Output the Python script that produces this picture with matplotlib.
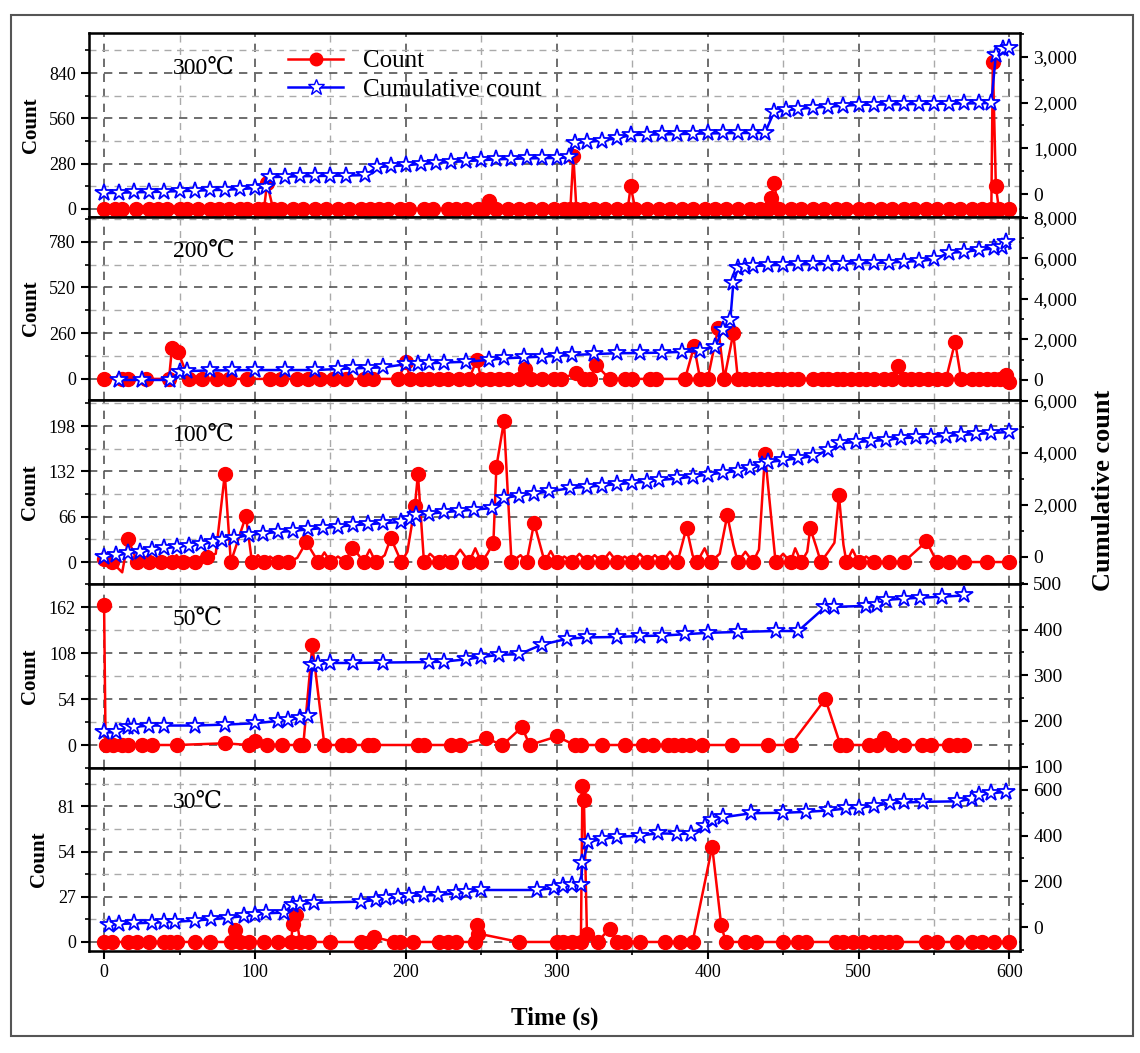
import matplotlib
matplotlib.use("Agg")
import matplotlib.pyplot as plt
from matplotlib.ticker import MultipleLocator, FuncFormatter
from matplotlib.patches import Rectangle

plt.rcParams['font.family'] = ['Liberation Serif', 'DejaVu Serif']

# ---- 300 C ----
t300_zero = [0, 7, 12, 21, 30, 36, 42, 50, 55, 62, 70, 76, 83, 90, 95, 102, 106, 112, 117, 125, 132, 140, 147, 155, 162,
             170, 176, 182, 188, 196, 202, 212, 218, 228, 233, 240, 248, 252, 260, 268, 275, 282, 290, 298, 305, 309, 313,
             318, 325, 332, 340, 347, 352, 360, 368, 375, 383, 390, 398, 405, 412, 420, 428, 435, 440, 447, 455, 462,
             470, 477, 485, 492, 500, 507, 515, 522, 530, 537, 545, 552, 560, 567, 575, 582, 588, 593, 600]
t300_peak = [108, 255, 311, 349, 442, 444, 589, 591]
c300_peak = [160, 50, 330, 140, 70, 160, 910, 140]
t300_cum = [0, 10, 20, 30, 40, 50, 60, 70, 80, 90, 100, 107, 110, 120, 130, 140, 150, 160, 173, 181, 190, 200, 210, 220,
            230, 240, 250, 260, 270, 280, 290, 300, 308, 312, 320, 330, 340, 349, 360, 370, 380, 390, 400, 410, 420,
            430, 438, 444, 452, 460, 470, 480, 490, 500, 510, 520, 530, 540, 550, 560, 570, 580, 588, 591, 596, 600]
c300_cum = [20, 30, 40, 45, 55, 65, 75, 85, 95, 110, 130, 150, 370, 380, 390, 395, 400, 405, 415, 590, 610, 630, 660,
            680, 700, 720, 740, 760, 770, 780, 785, 790, 800, 1115, 1140, 1170, 1220, 1290, 1300, 1305, 1310, 1320,
            1325, 1330, 1335, 1335, 1340, 1795, 1830, 1860, 1890, 1910, 1930, 1950, 1955, 1960, 1965, 1970, 1975,
            1975, 1980, 1985, 1990, 3050, 3170, 3190]

# ---- 200 C ----
t200_zero = [0, 12, 16, 28, 43, 56, 65, 75, 83, 95, 110, 117, 128, 135, 143, 152, 160, 172, 178, 195, 203, 210, 215,
             222, 228, 235, 242, 250, 256, 262, 268, 275, 283, 290, 298, 303, 318, 322, 335, 345, 350, 362, 366, 385,
             395, 400, 411, 420, 425, 430, 435, 440, 446, 450, 455, 460, 470, 476, 480, 486, 490, 495, 500, 505, 510,
             517, 522, 530, 535, 540, 546, 552, 558, 568, 575, 580, 585, 590, 594]
t200_peak = [45, 49, 200, 247, 279, 313, 326, 391, 407, 417, 526, 564, 598, 600]
c200_peak = [175, 155, 95, 110, 55, 35, 80, 185, 290, 260, 75, 210, 20, -20]
t200_cum = [10, 25, 44, 50, 55, 70, 85, 100, 120, 140, 155, 165, 175, 185, 200, 208, 215, 225, 240, 255, 265, 278, 290,
            300, 310, 325, 340, 355, 370, 383, 395, 405, 410, 415, 417, 420, 425, 430, 440, 450, 460, 470, 480, 490,
            500, 510, 520, 530, 540, 550, 560, 570, 580, 590, 595, 598]
c200_cum = [0, 0, 0, 400, 440, 470, 480, 490, 490, 490, 540, 570, 600, 620, 780, 800, 820, 860, 900, 990, 1070, 1110,
            1150, 1190, 1230, 1280, 1320, 1330, 1350, 1390, 1430, 1650, 2470, 2960, 4770, 5510, 5580, 5630, 5660,
            5690, 5720, 5730, 5740, 5750, 5760, 5780, 5800, 5840, 5870, 5960, 6280, 6330, 6420, 6500, 6580, 6830]

# ---- 100 C ----
t100_mark = [0, 5, 16, 22, 30, 38, 45, 52, 60, 68, 80, 84, 94, 98, 106, 115, 122, 134, 142, 150, 160, 164, 172, 180,
             190, 197, 206, 208, 212, 222, 230, 242, 250, 258, 260, 265, 270, 280, 285, 292, 300, 310, 320, 330, 340,
             350, 360, 370, 380, 386, 393, 402, 413, 420, 430, 438, 445, 455, 462, 468, 475, 487, 492, 500, 510,
             520, 530, 545, 552, 560, 570, 585, 600]
c100_mark = [5, 0, 33, 0, 0, 0, 0, 0, 0, 8, 128, 0, 67, 0, 0, 0, 0, 29, 0, 0, 0, 20, 0, 0, 35, 0, 82, 128, 0, 0, 0, 0,
             0, 28, 139, 205, 0, 0, 57, 0, 0, 0, 0, 0, 0, 0, 0, 0, 0, 50, 0, 0, 68, 0, 0, 157, 0, 0, 0, 49, 0, 97, 0,
             0, 0, 0, 0, 30, 0, 0, 0, 0, 0]
t100_noise = [12, 26, 34, 48, 56, 74, 102, 110, 128, 146, 155, 168, 176, 186, 201, 216, 226, 236, 246, 254, 276, 296,
              305, 315, 325, 335, 345, 355, 365, 375, 390, 398, 408, 417, 425, 434, 450, 458, 466, 472, 480, 484, 490,
              496, 505]
c100_noise = [-15, 8, 5, 10, 6, 12, 10, 8, 6, 14, 8, 12, 18, 10, 15, 12, 10, 18, 20, 12, 10, 16, 8, 12, 10, 14, 8, 12,
              10, 15, 10, 20, 12, 25, 15, 18, 12, 20, 15, 22, 15, 28, 25, 18, 8]
t100_cum = [0, 8, 16, 24, 32, 40, 48, 56, 64, 72, 78, 86, 96, 105, 115, 125, 135, 145, 155, 165, 175, 185, 197, 203,
            207, 215, 225, 235, 245, 257, 265, 275, 285, 295, 309, 320, 330, 340, 350, 360, 368, 380, 390, 400, 410,
            420, 428, 436, 440, 450, 460, 470, 480, 488, 498, 508, 518, 528, 538, 548, 558, 568, 578, 588, 600]
c100_cum = [0, 60, 140, 200, 270, 330, 390, 440, 500, 560, 650, 720, 850, 900, 960, 1000, 1060, 1110, 1170, 1220,
            1260, 1300, 1350, 1450, 1610, 1660, 1720, 1770, 1820, 1880, 2270, 2360, 2440, 2520, 2650, 2700, 2750,
            2800, 2850, 2900, 2960, 3020, 3090, 3170, 3240, 3310, 3420, 3530, 3650, 3720, 3800, 3880, 4110, 4380,
            4420, 4460, 4500, 4570, 4600, 4630, 4660, 4690, 4730, 4770, 4810]

# ---- 50 C ----
t50 = [0, 1, 6, 12, 16, 25, 32, 48, 80, 96, 100, 108, 118, 130, 132, 138, 146, 158, 162, 175, 178, 208, 212, 230, 236,
       253, 264, 277, 282, 300, 312, 316, 330, 345, 357, 364, 374, 378, 383, 388, 396, 416, 440, 455, 478, 488, 492,
       507, 512, 517, 522, 530, 542, 548, 560, 565, 570]
c50 = [164, 0, 0, 0, 0, 0, 0, 0, 2, 0, 5, 0, 0, 0, 0, 117, 0, 0, 0, 0, 0, 0, 0, 0, 0, 8, 0, 21, 0, 10, 0, 0, 0, 0, 0,
       0, 0, 0, 0, 0, 0, 0, 0, 0, 54, 0, 0, 0, 0, 8, 0, 0, 0, 0, 0, 0, 0]
t50_cum = [0, 8, 16, 20, 30, 40, 60, 80, 100, 115, 122, 130, 135, 138, 142, 150, 165, 185, 215, 225, 240, 250, 262,
           275, 290, 307, 320, 340, 355, 370, 385, 400, 420, 445, 460, 478, 484, 505, 512, 518, 530, 541, 555, 570]
c50_cum = [175, 175, 187, 187, 190, 190, 190, 192, 195, 200, 203, 206, 210, 323, 325, 327, 327, 328, 329, 330, 335,
           340, 345, 346, 367, 380, 383, 384, 386, 387, 390, 393, 395, 397, 397, 450, 450, 452, 455, 465, 468, 470,
           472, 475]

# ---- 30 C ----
t30 = [0, 5, 16, 22, 30, 40, 44, 48, 60, 70, 84, 87, 90, 96, 106, 115, 124, 125, 127, 130, 136, 150, 170, 176, 179,
       192, 196, 205, 222, 228, 233, 246, 247, 248, 275, 300, 304, 310, 316, 317, 318, 320, 327, 335, 340, 345, 355,
       372, 382, 390, 403, 409, 412, 425, 432, 450, 460, 465, 485, 490, 496, 503, 510, 515, 520, 525, 545, 552, 565,
       575, 582, 590, 600]
c30 = [0, 0, 0, 0, 0, 0, 0, 0, 0, 0, 0, 7, 0, 0, 0, 0, 0, 11, 16, 0, 0, 0, 0, 0, 3, 0, 0, 0, 0, 0, 0, 0, 10, 5, 0, 0,
       0, 0, 0, 93, 85, 5, 0, 8, 0, 0, 0, 0, 0, 0, 57, 10, 0, 0, 0, 0, 0, 0, 0, 0, 0, 0, 0, 0, 0, 0, 0, 0, 0, 0, 0,
       0, 0]
t30_cum = [3, 10, 20, 32, 40, 47, 60, 71, 82, 93, 100, 107, 119, 125, 130, 139, 170, 180, 187, 195, 202, 212, 221,
           233, 240, 250, 287, 298, 304, 310, 316, 317, 321, 330, 340, 355, 367, 380, 389, 398, 403, 410, 429, 450,
           465, 480, 492, 500, 510, 521, 530, 543, 565, 575, 580, 588, 598]
c30_cum = [9, 13, 16, 19, 21, 23, 28, 34, 40, 48, 53, 60, 63, 96, 100, 106, 111, 118, 126, 130, 136, 138, 140, 147,
           152, 162, 162, 170, 179, 182, 184, 279, 373, 385, 395, 400, 410, 408, 408, 440, 468, 480, 498, 500, 504,
           510, 519, 522, 530, 541, 545, 548, 550, 560, 578, 585, 592]


def merge(ta, ca, tb, cb):
    pts = sorted(zip(list(ta) + list(tb), list(ca) + list(cb)))
    return [p[0] for p in pts], [p[1] for p in pts]


t300, c300 = merge(t300_zero, [0] * len(t300_zero), t300_peak, c300_peak)
t200, c200 = merge(t200_zero, [0] * len(t200_zero), t200_peak, c200_peak)
t100_line, c100_line = merge(t100_mark, c100_mark, t100_noise, c100_noise)

panels = [
    dict(label="300\u2103", t=t300, c=c300, tl=t300, cl=c300, tc=t300_cum, cc=c300_cum,
         ylim=(-50, 1088), yt=280, rlim=(-500, 3520), rt=1000),
    dict(label="200\u2103", t=t200, c=c200, tl=t200, cl=c200, tc=t200_cum, cc=c200_cum,
         ylim=(-120, 921), yt=260, rlim=(-990, 8050), rt=2000),
    dict(label="100\u2103", t=t100_mark, c=c100_mark, tl=t100_line, cl=c100_line, tc=t100_cum, cc=c100_cum,
         ylim=(-32, 236), yt=66, rlim=(-1040, 6040), rt=2000),
    dict(label="50\u2103", t=t50, c=c50, tl=t50, cl=c50, tc=t50_cum, cc=c50_cum,
         ylim=(-27, 189), yt=54, rlim=(97, 500), rt=100),
    dict(label="30\u2103", t=t30, c=c30, tl=t30, cl=c30, tc=t30_cum, cc=c30_cum,
         ylim=(-5.4, 104), yt=27, rlim=(-105, 696), rt=200),
]

W, H = 1140, 1053
fig = plt.figure(figsize=(W / 100, H / 100), dpi=100)
fig.patches.append(Rectangle((11 / W, 1 - 1036 / H), 1122 / W, 1021 / H, transform=fig.transFigure,
                             fill=False, edgecolor="#555555", lw=1.5))

left, right = 89 / W, 1020 / W
tops = [33, 217, 400, 584, 768, 951]
comma = FuncFormatter(lambda v, p: f"{int(v):,}")

for i, p in enumerate(panels):
    y0 = 1 - tops[i + 1] / H
    h = (tops[i + 1] - tops[i]) / H
    ax = fig.add_axes([left, y0, right - left, h])
    ax.set_xlim(-10, 607)
    ax.set_ylim(*p["ylim"])
    ax.xaxis.set_major_locator(MultipleLocator(100))
    ax.xaxis.set_minor_locator(MultipleLocator(50))
    ax.yaxis.set_major_locator(MultipleLocator(p["yt"]))
    ax.yaxis.set_minor_locator(MultipleLocator(p["yt"] / 2))
    ax.grid(True, which="major", ls=(0, (5, 4)), color="#555555", lw=1.2)
    ax.grid(True, which="minor", ls=(0, (5, 4)), color="#aaaaaa", lw=1.0)
    ax.tick_params(axis="both", which="major", direction="out", length=6, width=1.5, labelsize=13)
    ax.tick_params(axis="both", which="minor", direction="out", length=3, width=1.2)
    if i < 4:
        ax.tick_params(axis="x", labelbottom=False)
    for s in ax.spines.values():
        s.set_linewidth(1.8)
    ax.set_ylabel("Count", fontsize=15, fontweight="bold", labelpad=6)

    ax.plot(p["tl"], p["cl"], color="red", lw=1.8, zorder=3)
    ax.plot(p["t"], p["c"], ls="none", marker="o", ms=10, color="red", mec="red", zorder=4)
    ax.text(0.09, 0.78, p["label"], transform=ax.transAxes, fontsize=17)

    ax2 = ax.twinx()
    ax2.set_ylim(*p["rlim"])
    ax2.yaxis.set_major_locator(MultipleLocator(p["rt"]))
    ax2.yaxis.set_minor_locator(MultipleLocator(p["rt"] / 2))
    ax2.yaxis.set_major_formatter(comma)
    ax2.tick_params(axis="y", which="major", direction="out", length=6, width=1.5, labelsize=14)
    ax2.tick_params(axis="y", which="minor", direction="out", length=3, width=1.2)
    ax2.plot(p["tc"], p["cc"], color="blue", lw=1.8, marker="*", ms=13, mfc="white", mec="blue", mew=1.3,
             clip_on=False, zorder=5)

    if i == 0:
        h1, = ax.plot([], [], color="red", lw=1.8, marker="o", ms=9)
        h2, = ax.plot([], [], color="blue", lw=1.8, marker="*", ms=12, mfc="white", mec="blue")
        ax2.legend([h1, h2], ["Count", "Cumulative count"], loc="upper left", bbox_to_anchor=(0.19, 1.03),
                   frameon=False, fontsize=18, handlelength=2.2, labelspacing=0.25)
    if i == 4:
        ax.set_xlabel("Time (s)", fontsize=18, fontweight="bold", labelpad=18)

fig.text(1103 / W, 1 - 490 / H, "Cumulative count", rotation=90, fontsize=19, fontweight="bold",
         ha="center", va="center")

fig.savefig("out.png", dpi=100)
